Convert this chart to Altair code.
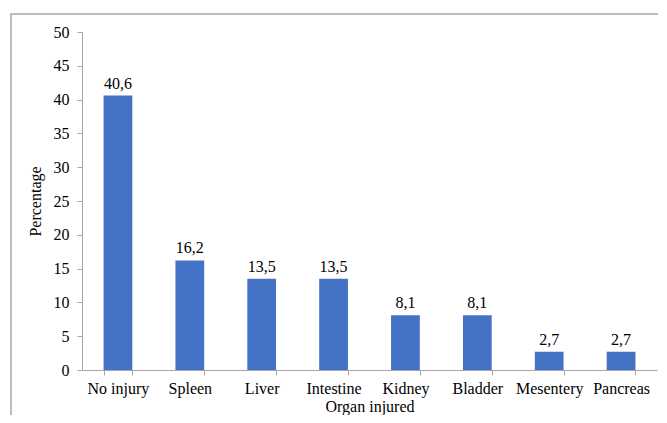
import altair as alt
import pandas as pd

organs = ["No injury", "Spleen", "Liver", "Intestine", "Kidney", "Bladder", "Mesentery", "Pancreas"]
values = [40.6, 16.2, 13.5, 13.5, 8.1, 8.1, 2.7, 2.7]
value_labels = ["40,6", "16,2", "13,5", "13,5", "8,1", "8,1", "2,7", "2,7"]
y_ticks = [0, 5, 10, 15, 20, 25, 30, 35, 40, 45, 50]

df = pd.DataFrame({"organ": organs, "value": values, "label": value_labels})

FONT = "Liberation Serif"

x_enc = alt.X(
    "organ:N",
    sort=organs,
    title="Organ injured",
    scale=alt.Scale(paddingInner=0.6, paddingOuter=0.3),
    axis=alt.Axis(
        labelAngle=0, labelFont=FONT, labelFontSize=16, labelColor="#000000",
        titleFont=FONT, titleFontSize=16, titleFontWeight="normal", titleColor="#000000",
        domainColor="#a6a6a6", tickColor="#a6a6a6", tickSize=5,
        tickBand="extent", labelPadding=5, titlePadding=2,
    ),
)
y_enc = alt.Y(
    "value:Q",
    title="Percentage",
    scale=alt.Scale(domain=[0, 50], nice=False),
    axis=alt.Axis(
        values=y_ticks, labelOverlap=False, grid=False,
        labelFont=FONT, labelFontSize=16, labelColor="#000000",
        titleFont=FONT, titleFontSize=16, titleFontWeight="normal", titleColor="#000000",
        domainColor="#a6a6a6", tickColor="#a6a6a6", tickSize=5,
        labelPadding=8, titlePadding=10,
    ),
)

frame = alt.Chart(df).mark_rect(fill="transparent", stroke="#bfbfbf", strokeWidth=1.5).encode(
    x=alt.value(-71), x2=alt.value(620), y=alt.value(-18), y2=alt.value(420)
)

base = alt.Chart(df).encode(x=x_enc, y=y_enc)
bars = base.mark_bar(color="#4472C4")
texts = base.mark_text(font=FONT, fontSize=16, dy=-12, color="#000000").encode(text="label:N")

chart = alt.layer(frame, bars, texts).properties(
    width=575, height=338,
    autosize=alt.AutoSizeParams(type="none"),
    padding={"left": 74, "top": 24, "right": 1, "bottom": 45},
).configure(background="white").configure_view(stroke=None)

chart.save("out.html", embed_options={"renderer": "svg", "actions": False})
